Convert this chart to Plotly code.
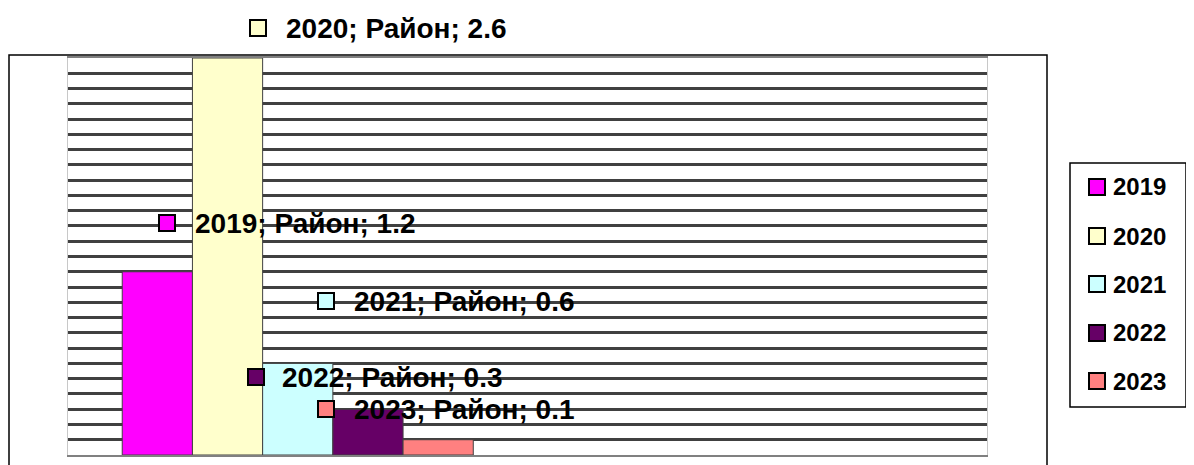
import plotly.graph_objects as go

# ---- data ----
years = ["2019", "2020", "2021", "2022", "2023"]
category = "Район"
values = [1.2, 2.6, 0.6, 0.3, 0.1]
colors = ["#FF00FF", "#FFFFCC", "#CCFFFF", "#660066", "#FF8080"]
# label placement (pixel positions of the moved data labels: square centre x, text left x, centre y)
label_sq_x = [167, 258, 326, 256, 326]
label_txt_x = [193, 284, 352, 280, 352]
label_y = [223, 28, 301, 377, 409]
# legend item centre rows (pixels)
legend_y = [187, 236, 284, 333, 381]

OFF = 8  # page body margin
W, H = 1194 - OFF, 465 - OFF
L, R, T, B = 68, 987, 58, 455  # plot area in page pixels


def px_x(px):
    return (px - L) / (R - L)


def px_y(py):
    return (B - py) / (B - T)


FONT = "Liberation Sans"

fig = go.Figure()
for yr, v, c in zip(years, values, colors):
    fig.add_trace(go.Bar(
        x=[0], y=[v], name=yr,
        marker=dict(color=c, line=dict(color="#404040", width=1)),
        hoverinfo="name+y",
    ))

shapes = [
    dict(type="rect", xref="paper", yref="paper",
         x0=px_x(9), x1=px_x(1047), y0=px_y(480), y1=px_y(55),
         line=dict(color="black", width=1.5), fillcolor="rgba(0,0,0,0)", layer="above"),
    # legend box
    dict(type="rect", xref="paper", yref="paper",
         x0=px_x(1070), x1=px_x(1186), y0=px_y(407), y1=px_y(163),
         line=dict(color="black", width=1.5), fillcolor="white", layer="above"),
]
annotations = []
for yr, v, c, sx, tx, ly in zip(years, values, colors, label_sq_x, label_txt_x, label_y):
    s = 8
    shapes.append(dict(type="rect", xref="paper", yref="paper",
                       x0=px_x(sx - s), x1=px_x(sx + s), y0=px_y(ly + s), y1=px_y(ly - s),
                       line=dict(color="black", width=2), fillcolor=c, layer="above"))
    annotations.append(dict(xref="paper", yref="paper", x=px_x(tx), y=px_y(ly),
                            xanchor="left", yanchor="middle", showarrow=False,
                            text=f"{yr}; {category}; {v}",
                            font=dict(family=FONT, size=28, color="black", weight="bold")))

# manual legend
for yr, c, ly in zip(years, colors, legend_y):
    s = 8
    shapes.append(dict(type="rect", xref="paper", yref="paper",
                       x0=px_x(1097 - s), x1=px_x(1097 + s), y0=px_y(ly + s), y1=px_y(ly - s),
                       line=dict(color="black", width=2), fillcolor=c, layer="above"))
    annotations.append(dict(xref="paper", yref="paper", x=px_x(1111), y=px_y(ly),
                            xanchor="left", yanchor="middle", showarrow=False, text=yr,
                            font=dict(family=FONT, size=24, color="black", weight="bold")))

fig.update_layout(
    width=W, height=H,
    margin=dict(l=L - OFF, r=1194 - R, t=T - OFF, b=465 - B),
    paper_bgcolor="white", plot_bgcolor="white",
    barmode="group", bargap=0.236, bargroupgap=0,
    showlegend=False,
    xaxis=dict(range=[-0.5, 1.5], showticklabels=False, showgrid=False, zeroline=False,
               showline=True, linecolor="#808080", linewidth=2, mirror=True, ticks=""),
    yaxis=dict(range=[0, 2.6], dtick=0.1, showticklabels=False, showgrid=True,
               gridcolor="#404040", gridwidth=2.5, zeroline=False,
               showline=True, linecolor="#c8c8c8", linewidth=1, mirror=True, ticks=""),
    shapes=shapes, annotations=annotations,
)

fig.write_html("out.html")
